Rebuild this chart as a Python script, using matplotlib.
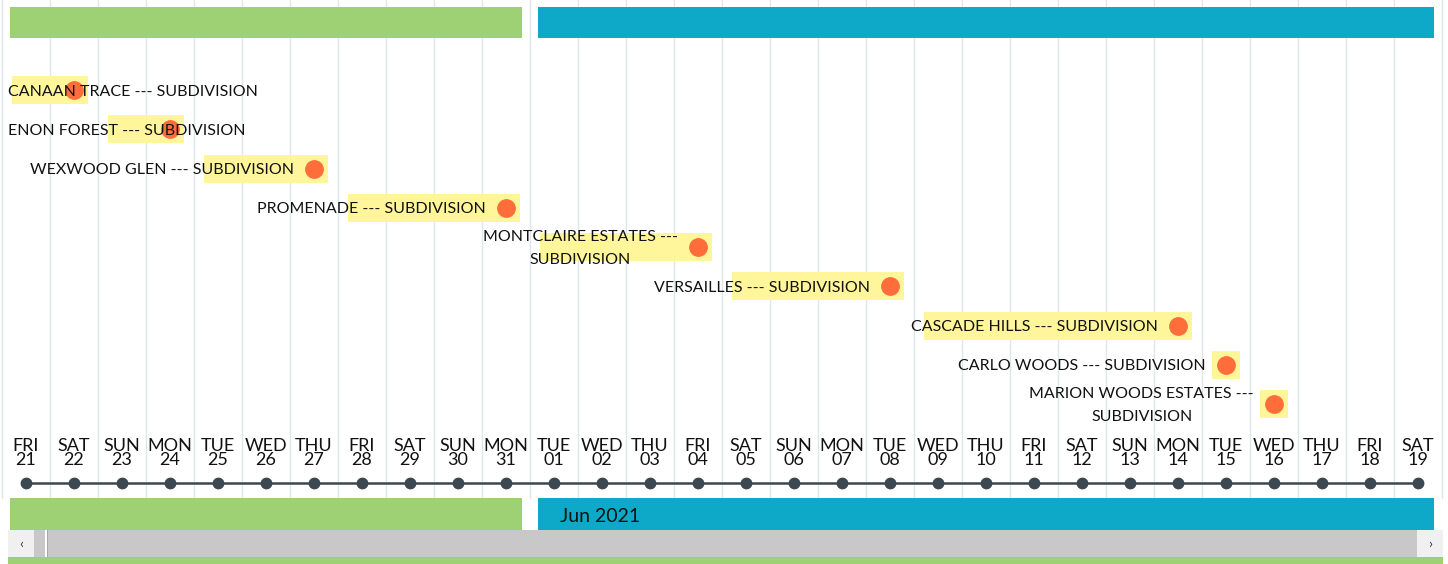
import textwrap
import pandas as pd
import matplotlib
matplotlib.use("Agg")
import matplotlib.pyplot as plt
from matplotlib.patches import Rectangle

plt.rcParams['font.family'] = ['Lato', 'DejaVu Sans']

# timeline data
view_start = "2021-05-21"
view_end = "2021-06-19"
names = ["CANAAN TRACE", "ENON FOREST", "WEXWOOD GLEN", "PROMENADE",
         "MONTCLAIRE ESTATES", "VERSAILLES", "CASCADE HILLS", "CARLO WOODS",
         "MARION WOODS ESTATES"]
kind = "SUBDIVISION"
starts = ["2021-05-21", "2021-05-23", "2021-05-25", "2021-05-28", "2021-06-01",
          "2021-06-05", "2021-06-09", "2021-06-15", "2021-06-16"]
ends = ["2021-05-22", "2021-05-24", "2021-05-27", "2021-05-31", "2021-06-04",
        "2021-06-08", "2021-06-14", "2021-06-15", "2021-06-16"]
months = ["2021-05", "2021-06"]
month_labels = ["", "Jun 2021"]

GREEN = "#9ed174"
BLUE = "#0ea9c9"
YELLOW = "#fff59a"
ORANGE = "#ff6d3a"
DARK = "#3b4852"
GRID = "#e2e6ea"

t0 = pd.Timestamp(view_start)
days = pd.date_range(view_start, view_end, freq="D")
dnum = [(d - t0).days for d in days]
s_num = [(pd.Timestamp(s) - t0).days for s in starts]
e_num = [(pd.Timestamp(e) - t0).days for e in ends]

W, H = 1448, 564
fig = plt.figure(figsize=(W / 100, H / 100), dpi=100)
ax = fig.add_axes([0, 0, 1, 1])
px_day = 48.0
x0_px = 26.0
ax.set_xlim(-x0_px / px_day, (W - x0_px) / px_day)
ax.set_ylim(H, 0)
ax.axis("off")

# chrome axes in pixel units
cx = fig.add_axes([0, 0, 1, 1], zorder=-1)
cx.set_xlim(0, W)
cx.set_ylim(H, 0)
cx.axis("off")

# day grid
for d in dnum + [dnum[-1] + 1]:
    ax.plot([d - 0.5, d - 0.5], [0, 498], color=GRID, lw=1, zorder=0)

# month bands top and bottom
lo, hi = dnum[0] - 0.5, dnum[-1] + 0.5
inset = 0.16
for m, lab, col in zip(months, month_labels, [GREEN, BLUE]):
    ms = pd.Period(m, "M").start_time
    me = pd.Period(m, "M").end_time.normalize()
    a = max((ms - t0).days - 0.5, lo) + inset
    b = min((me - t0).days + 0.5, hi) - inset
    for y0, h in [(7, 31), (498, 32)]:
        ax.add_patch(Rectangle((a, y0), b - a, h, color=col, lw=0, zorder=1))
    if lab:
        ax.text(a + 0.47, 516, lab, fontsize=14, va="center", ha="left",
                color="#111111", zorder=3)

# timeline axis
ax.plot(dnum, [483] * len(dnum), color=DARK, lw=1.8, zorder=2)
ax.plot(dnum, [483] * len(dnum), "o", color=DARK, ms=7.5, zorder=3)
for d, day in zip(dnum, days):
    ax.text(d, 451, day.strftime("%a").upper(), ha="center", va="baseline",
            fontsize=13, color="#111111", zorder=3)
    ax.text(d, 465, day.strftime("%d"), ha="center", va="baseline",
            fontsize=13, color="#111111", zorder=3)

# events
row_y0, row_h = 90, 39.25
pad = 0.29
renderer = fig.canvas.get_renderer()
left_lim = ax.transData.inverted().transform((8, 0))[0]
for i, (name, s, e) in enumerate(zip(names, s_num, e_num)):
    y = row_y0 + row_h * i
    ax.add_patch(Rectangle((s - pad, y - 14), (e - s) + 2 * pad, 28,
                           color=YELLOW, lw=0, zorder=2))
    ax.plot(e, y, "o", color=ORANGE, ms=12.5, zorder=3)
    label = "\n".join(textwrap.wrap(f"{name} --- {kind}", 30))
    t = ax.text(e - 20 / px_day, y + 1.5, label, ha="right", va="center",
                multialignment="center", fontsize=11.5, color="#111111",
                linespacing=1.75, zorder=4)
    bb = t.get_window_extent(renderer)
    if bb.x0 < 8:
        t.set_x(left_lim)
        t.set_ha("left")

# scrollbar
cx.add_patch(Rectangle((8, 530), 26, 27, color="#f0f0f0", lw=0))
cx.add_patch(Rectangle((34, 530), 1383, 27, color="#c8c8c8", lw=0))
cx.add_patch(Rectangle((45, 530), 1.5, 27, color="#ffffff", lw=0))
cx.add_patch(Rectangle((47, 530), 1, 27, color="#a8a8a8", lw=0))
cx.add_patch(Rectangle((1417, 530), 26, 27, color="#f0f0f0", lw=0))
cx.text(21, 544, "‹", ha="center", va="center", fontsize=10, color="#333333")
cx.text(1430, 544, "›", ha="center", va="center", fontsize=10, color="#333333")
cx.add_patch(Rectangle((8, 557), 1435, 7, color=GREEN, lw=0))

fig.savefig("out.png", dpi=100)
